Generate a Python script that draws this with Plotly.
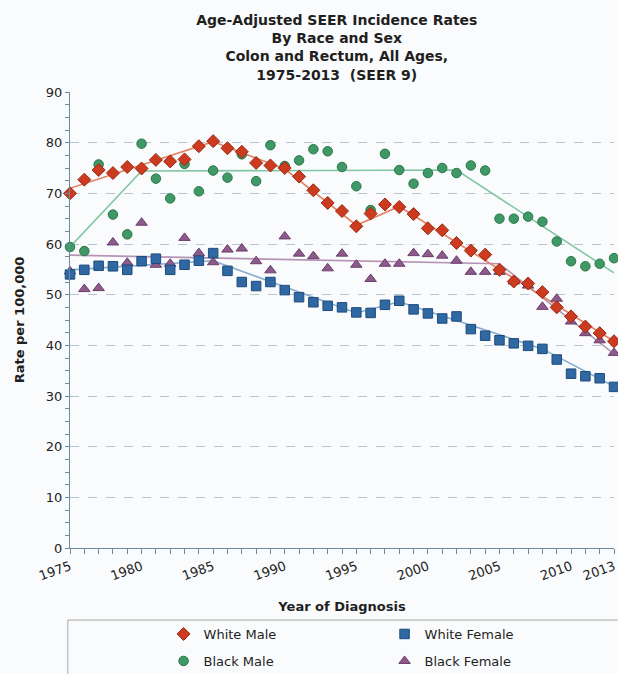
import plotly.graph_objects as go

# Age-adjusted colon & rectum incidence, SEER 9, rate per 100,000
years = list(range(1975, 2014))

white_male = [70.0, 72.7, 74.6, 74.0, 75.2, 74.9, 76.6, 76.3, 76.7, 79.3,
              80.3, 78.9, 78.2, 76.0, 75.5, 75.0, 73.3, 70.6, 68.1, 66.5,
              63.5, 66.0, 67.8, 67.3, 65.9, 63.1, 62.7, 60.2, 58.7, 57.9,
              54.9, 52.6, 52.2, 50.5, 47.5, 45.7, 43.7, 42.4, 40.8]

white_female = [54.0, 54.9, 55.7, 55.6, 54.9, 56.6, 57.1, 54.9, 55.9, 56.7,
                58.2, 54.7, 52.5, 51.7, 52.5, 50.9, 49.5, 48.5, 47.8, 47.5,
                46.5, 46.4, 48.0, 48.8, 47.1, 46.3, 45.3, 45.7, 43.2, 41.9,
                41.0, 40.4, 39.9, 39.3, 37.2, 34.4, 33.9, 33.5, 31.8]

black_male = [59.4, 58.6, 75.7, 65.8, 61.9, 79.8, 72.9, 69.0, 75.8, 70.4,
              74.5, 73.1, 77.7, 72.4, 79.5, 75.4, 76.5, 78.7, 78.3, 75.2,
              71.4, 66.7, 77.8, 74.6, 71.9, 74.0, 75.0, 74.0, 75.5, 74.5,
              65.0, 65.0, 65.4, 64.4, 60.5, 56.6, 55.6, 56.1, 57.2]

black_female = [54.6, 51.1, 51.3, 60.3, 56.3, 64.2, 55.9, 56.1, 61.2, 58.2,
                56.4, 58.9, 59.1, 56.6, 54.8, 61.5, 58.1, 57.6, 55.2, 58.1,
                55.9, 53.1, 56.1, 56.1, 58.2, 58.0, 57.7, 56.7, 54.5, 54.5,
                54.5, 52.6, 51.8, 47.6, 49.2, 44.7, 42.4, 41.0, 38.5]

# Joinpoint trend segments: (year, modeled rate) at each join
wm_fit_years = [1975, 1985, 1990, 1995, 1998, 2013]
wm_fit_rates = [71.0, 80.2, 74.8, 63.7, 67.4, 40.8]
wf_fit_years = [1975, 1985, 1995, 1998, 2008, 2013]
wf_fit_rates = [54.9, 56.7, 46.4, 48.6, 39.3, 31.9]
bm_fit_years = [1975, 1980, 2002, 2013]
bm_fit_rates = [59.4, 74.4, 74.6, 54.3]
bf_fit_years = [1975, 2005, 2013]
bf_fit_rates = [57.8, 56.1, 38.3]

# axis ticks
labeled_years = [1975, 1980, 1985, 1990, 1995, 2000, 2005, 2010, 2013]
rate_ticks = [i * 2.5 for i in range(37)]          # 0 .. 90, every 2.5
rate_labels = [str(int(v)) if v % 10 == 0 else "" for v in rate_ticks]
rate_gridlines = [10, 20, 30, 40, 50, 60, 70, 80]

BG = "#fafbfc"
AXIS = "#6a8aa0"
GRID = "#b9c5ce"
FONT = "DejaVu Sans"

series = [
    # name, rates, fit x, fit y, symbol, fill, edge, line, legend, rank
    ("Black Female", black_female, bf_fit_years, bf_fit_rates, "triangle-up",
     "#8d5a8c", "#6a3f6a", "#b493b6", "legend2", 2),
    ("Black Male", black_male, bm_fit_years, bm_fit_rates, "circle",
     "#3f9966", "#2b7549", "#80c6a2", "legend2", 1),
    ("White Female", white_female, wf_fit_years, wf_fit_rates, "square",
     "#2f68a3", "#1e4c7c", "#86acd0", "legend", 2),
    ("White Male", white_male, wm_fit_years, wm_fit_rates, "diamond",
     "#cc3b1f", "#9a2a12", "#e58263", "legend", 1),
]

sizes = {"triangle-up": 10, "circle": 9.5, "square": 9.5, "diamond": 10}

fig = go.Figure()

# trend lines underneath the observed points
for name, rates, fx, fy, sym, fill, edge, line, leg, rank in series:
    fig.add_trace(go.Scatter(
        x=fx, y=fy, mode="lines", showlegend=False, hoverinfo="skip",
        line=dict(color=line, width=1.6), cliponaxis=False,
    ))

for name, rates, fx, fy, sym, fill, edge, line, leg, rank in series:
    fig.add_trace(go.Scatter(
        x=years, y=rates, mode="markers", name=name,
        legend=leg, legendrank=rank, cliponaxis=False,
        marker=dict(symbol=sym, size=sizes[sym], color=fill,
                    line=dict(color=edge, width=1)),
    ))

tick_text = [str(y) if y in labeled_years else "" for y in years]

fig.update_layout(
    width=618, height=674,
    margin=dict(l=70, r=4, t=92, b=126, autoexpand=False),
    paper_bgcolor=BG, plot_bgcolor=BG,
    font=dict(family=FONT, size=13, color="#1f1f1f"),
    title=dict(
        text="<b>Age-Adjusted SEER Incidence Rates<br>By Race and Sex<br>"
             "Colon and Rectum, All Ages,<br>1975-2013\u00a0 (SEER 9)</b>",
        x=0.545, xref="container", xanchor="center",
        y=0.963, yref="container", yanchor="top",
        font=dict(family=FONT, size=14, color="#1f1f1f"),
    ),
    xaxis=dict(
        range=[1975, 2013], tickmode="array", tickvals=years, ticktext=tick_text,
        tickangle=-20, ticks="outside", ticklen=5, tickcolor=AXIS,
        showline=True, linecolor=AXIS, linewidth=1.2, showgrid=False,
        zeroline=False, tickfont=dict(size=13),
        title=dict(text="<b>Year of Diagnosis</b>", standoff=19,
                   font=dict(size=13)),
    ),
    yaxis=dict(
        range=[0, 90], tickmode="array", tickvals=rate_ticks,
        ticktext=rate_labels, ticks="outside", ticklen=4,
        tickcolor=AXIS, showline=True, linecolor=AXIS, linewidth=1.2,
        showgrid=False, zeroline=False, tickfont=dict(size=13),
        minor=dict(tickmode="array", tickvals=rate_gridlines, ticks="",
                   showgrid=True, gridcolor=GRID, griddash="dash",
                   gridwidth=1),
        title=dict(text="<b>Rate per 100,000</b>", standoff=18,
                   font=dict(size=13)),
    ),
    legend=dict(
        orientation="h", x=0.172, xanchor="left", y=-0.1886, yanchor="middle",
        entrywidth=176, entrywidthmode="pixels", bgcolor="rgba(0,0,0,0)",
        font=dict(size=13),
    ),
    legend2=dict(
        orientation="h", x=0.172, xanchor="left", y=-0.2478, yanchor="middle",
        entrywidth=176, entrywidthmode="pixels", bgcolor="rgba(0,0,0,0)",
        font=dict(size=13),
    ),
    shapes=[dict(
        type="rect", xref="paper", yref="paper",
        x0=-0.004, x1=1.02, y0=-0.158, y1=-0.30,
        line=dict(color="#a9a9a9", width=1), fillcolor="rgba(0,0,0,0)",
    )],
)

fig.write_html("out.html")
